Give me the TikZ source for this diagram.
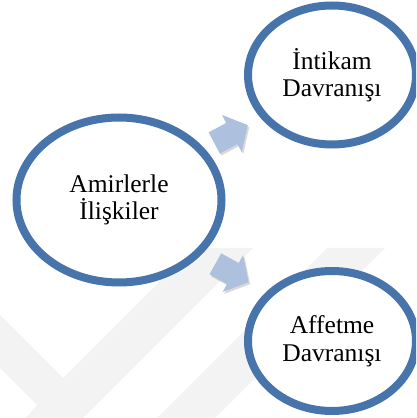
\documentclass[tikz,border=0pt]{standalone}
\usepackage{fontspec}
\setmainfont{Liberation Serif}
\usetikzlibrary{shapes.geometric,shadows}
\definecolor{ringblue}{RGB}{70,116,171}
\definecolor{arrowblue}{RGB}{173,193,223}
\definecolor{wmark}{RGB}{243,243,243}
\tikzset{
  bubble/.style={ellipse, draw=ringblue, line width=8pt, fill=white, inner sep=0pt,
    align=center, font=\fontsize{25.5}{27.5}\selectfont,
    drop shadow={shadow xshift=1.5pt, shadow yshift=-2.5pt, opacity=0.18, fill=black}},
  flowarrow/.style={fill=arrowblue, draw=none,
    drop shadow={shadow xshift=1.5pt, shadow yshift=-2pt, opacity=0.15, fill=black}},
  watermark/.style={fill=wmark, draw=none}
}
\newcommand{\blockarrow}{(-19,-12) -- (1,-12) -- (1,-21) -- (19,0) -- (1,21) -- (1,12) -- (-19,12) -- cycle}
\begin{document}
\begin{tikzpicture}[x=1pt,y=1pt]
\useasboundingbox (0,0) rectangle (416,418);
\clip (0,0) rectangle (416,418);
\fill[white] (0,0) rectangle (416,418);
% watermark
\path[watermark] (0,103) -- (63,40) -- (193,170) -- (253,170) -- (83,0) -- (26,0) -- (37,13) -- (0,50) -- cycle;
\path[watermark] (157,0) -- (327,170) -- (385,170) -- (215,0) -- cycle;
% nodes
\node[bubble, minimum width=205pt, minimum height=165pt] (amir) at (119,218) {Amirlerle\\İlişkiler};
\node[bubble, minimum width=168pt, minimum height=139pt] (intikam) at (332,343) {İntikam\\Davranışı};
\node[bubble, minimum width=168pt, minimum height=140pt] (affet) at (332,77) {Affetme\\Davranışı};
% arrows
\coordinate (a1) at (231,284);
\coordinate (a2) at (232,145);
\begin{scope}[shift={(a1)}, rotate=28]
  \path[flowarrow] \blockarrow;
\end{scope}
\begin{scope}[shift={(a2)}, rotate=-29]
  \path[flowarrow] \blockarrow;
\end{scope}
\end{tikzpicture}
\end{document}
